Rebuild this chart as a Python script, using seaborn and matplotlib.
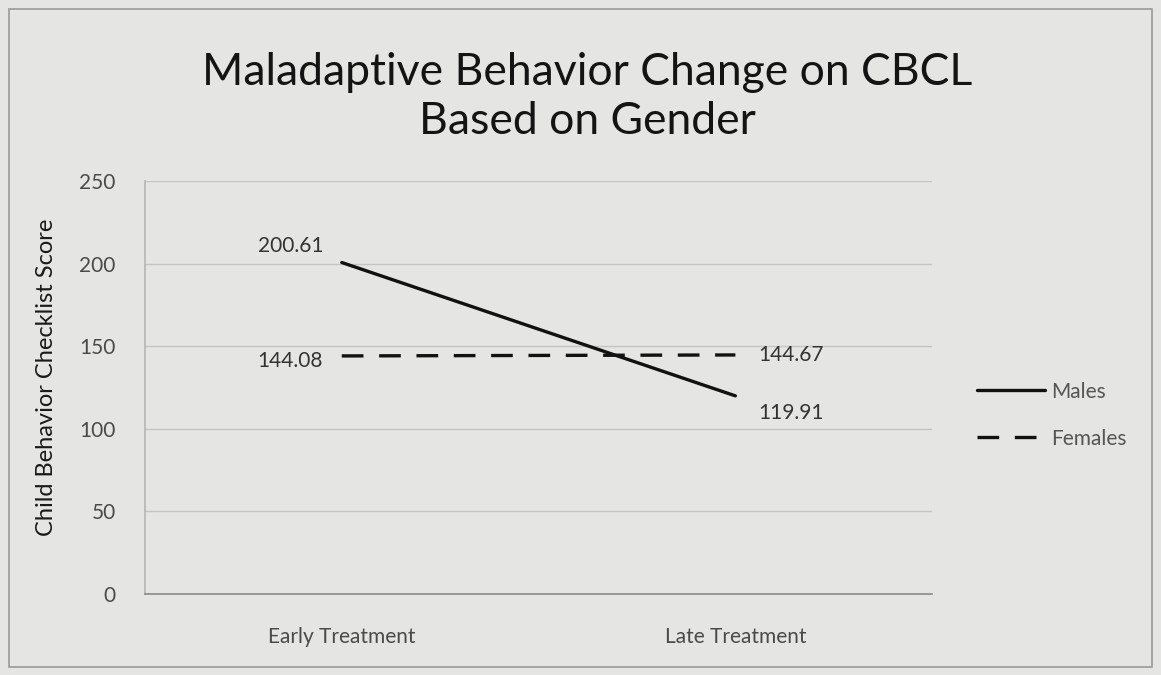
import matplotlib
matplotlib.use("Agg")
import matplotlib.pyplot as plt
import seaborn as sns
import pandas as pd
from matplotlib.patches import Rectangle
from matplotlib.lines import Line2D

categories = ["Early Treatment", "Late Treatment"]
males = [200.61, 119.91]
females = [144.08, 144.67]
series_names = ["Males", "Females"]
y_ticks = [0, 50, 100, 150, 200, 250]

sns.set_theme(style="white")
plt.rcParams['font.family'] = ['Lato', 'DejaVu Sans']

bg = "#e5e5e3"
dash = (6.5, 4.7)
fig = plt.figure(figsize=(11.61, 6.75), dpi=100, facecolor=bg)
ax = fig.add_axes([0.1249, 0.12, 0.678, 0.612])
ax.set_facecolor(bg)

df = pd.DataFrame({
    "Treatment": categories * 2,
    "Score": males + females,
    "Gender": [series_names[0]] * 2 + [series_names[1]] * 2,
})
df["x"] = [0, 1, 0, 1]

sns.lineplot(data=df, x="x", y="Score", style="Gender", hue="Gender",
             palette={"Males": "#111111", "Females": "#111111"},
             dashes={"Males": "", "Females": dash},
             linewidth=2.4, ax=ax, legend=False)

ax.set_xlim(-0.5, 1.5)
ax.set_ylim(0, 250)
ax.set_yticks(y_ticks)
ax.set_xticks([0, 1])
ax.set_xticklabels(categories)
ax.tick_params(axis="both", length=0, labelsize=15, labelcolor="#4a4a4a")
ax.tick_params(axis="y", pad=21)
ax.tick_params(axis="x", pad=24)
ax.grid(axis="y", color="#c4c4c2", linewidth=1)
ax.set_axisbelow(True)
for s in ["top", "right"]:
    ax.spines[s].set_visible(False)
ax.spines["left"].set_color("#b8b8b6")
ax.spines["bottom"].set_color("#8a8a88")
ax.spines["bottom"].set_linewidth(1.2)
ax.set_xlabel("")
ax.set_ylabel("Child Behavior Checklist Score", fontsize=17, color="#1a1a1a", labelpad=16)
ax.yaxis.set_label_coords(-0.112, 0.525)

# data labels
lab_kw = dict(fontsize=15, color="#333333", ha="center", va="center")
ax.annotate(f"{males[0]:.2f}", (0, males[0]), xytext=(-37, 12), textcoords="offset points", **lab_kw)
ax.annotate(f"{females[0]:.2f}", (0, females[0]), xytext=(-37, -4), textcoords="offset points", **lab_kw)
ax.annotate(f"{females[1]:.2f}", (1, females[1]), xytext=(40, 0), textcoords="offset points", **lab_kw)
ax.annotate(f"{males[1]:.2f}", (1, males[1]), xytext=(40, -12), textcoords="offset points", **lab_kw)

# legend
handles = [Line2D([], [], color="#111111", lw=2.4, ls="-"),
           Line2D([], [], color="#111111", lw=2.4, ls=(0, dash))]
leg = fig.legend(handles, series_names, loc="center left", bbox_to_anchor=(0.825, 0.385),
                 frameon=False, fontsize=15, handlelength=3.3, handletextpad=0.3,
                 labelspacing=1.3)
for t in leg.get_texts():
    t.set_color("#555555")

fig.text(0.506, 0.856, "Maladaptive Behavior Change on CBCL\nBased on Gender",
         ha="center", va="center", fontsize=32, color="#141414", linespacing=1.25)

fig.patches.append(Rectangle((0.008, 0.012), 0.984, 0.975, transform=fig.transFigure,
                             fill=False, edgecolor="#9a9a98", linewidth=1.2))

fig.savefig("out.png", dpi=100, facecolor=bg)
